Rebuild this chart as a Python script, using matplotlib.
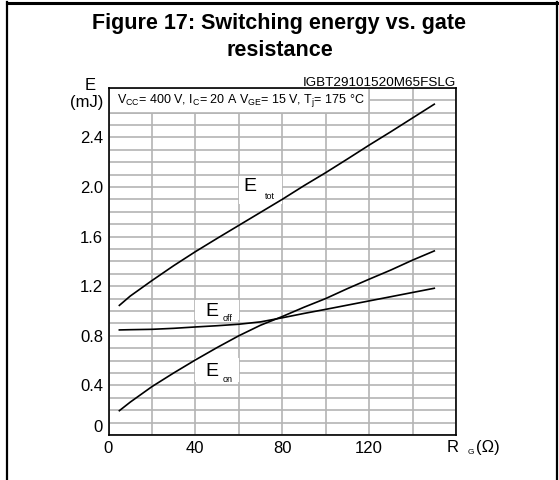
import matplotlib
matplotlib.use("Agg")
import matplotlib.pyplot as plt
from matplotlib.patches import Rectangle
from matplotlib.lines import Line2D

plt.rcParams['font.family'] = ['Liberation Sans', 'DejaVu Sans']
plt.rcParams['mathtext.fontset'] = 'custom'
plt.rcParams['mathtext.rm'] = 'Liberation Sans'
plt.rcParams['mathtext.it'] = 'Liberation Sans'

# Data
rg = [5, 10, 20, 30, 40, 50, 60, 70, 80, 90, 100, 110, 120, 130, 140, 150]
e_on = [0.196, 0.265, 0.39, 0.50, 0.605, 0.705, 0.80, 0.885, 0.955, 1.03, 1.10, 1.18, 1.256, 1.33, 1.41, 1.484]
e_off = [0.847, 0.849, 0.852, 0.860, 0.871, 0.881, 0.893, 0.912, 0.945, 0.98, 1.013, 1.047, 1.081, 1.115, 1.149, 1.183]
e_tot = [1.045, 1.12, 1.245, 1.365, 1.478, 1.585, 1.69, 1.795, 1.900, 2.01, 2.115, 2.225, 2.337, 2.445, 2.556, 2.667]

x_ticks = [0, 40, 80, 120]
y_ticks = [0, 0.4, 0.8, 1.2, 1.6, 2.0, 2.4]
y_labels = ["0", "0.4", "0.8", "1.2", "1.6", "2.0", "2.4"]

W, H = 559, 480
fig = plt.figure(figsize=(W / 100, H / 100), dpi=100)
ax = fig.add_axes([108.5 / W, 1 - 435 / H, (456 - 108.5) / W, (435 - 87.7) / H])

ax.set_xlim(0, 160)
ax.set_ylim(0, 2.8)

gc = '#b4b4b4'
xg = [i * 20 for i in range(9)]
ax.set_xticks(xg)
ax.set_xticklabels([str(v) if v in x_ticks else '' for v in xg])
yg = [i / 10 for i in range(29)]
ax.set_yticks(yg)
ylab = []
for v in yg:
    lab = ''
    for t, l in zip(y_ticks, y_labels):
        if abs(t - v) < 1e-9:
            lab = l
    ylab.append(lab)
ax.set_yticklabels(ylab)
ax.grid(True, color=gc, lw=1.2)
ax.set_axisbelow(True)
ax.tick_params(length=0, labelsize=12, pad=4, colors='black')
ax.get_yticklabels()[0].set_va('bottom')

for s in ax.spines.values():
    s.set_color('black')
    s.set_linewidth(1.2)

# annotation box
ax.add_patch(Rectangle((0, 2.6), 120, 0.2, facecolor='white', edgecolor=gc, lw=1.2, zorder=1))
ax.text(3.9, 2.70, r"V$_{\rm CC}$= 400 V, I$_{\rm C}$= 20 A V$_{\rm GE}$= 15 V, T$_{\rm j}$= 175 °C",
        fontsize=9, va='center', ha='left', zorder=3)

# label boxes
for (x0, y0, w, h) in [(60, 1.86, 20, 0.23), (40, 0.93, 20, 0.16), (40, 0.43, 20, 0.19)]:
    ax.add_patch(Rectangle((x0, y0), w, h, facecolor='white', edgecolor='none', zorder=1))

ax.plot(rg, e_tot, color='black', lw=1.2, zorder=2)
ax.plot(rg, e_off, color='black', lw=1.2, zorder=2)
ax.plot(rg, e_on, color='black', lw=1.2, zorder=2)

ax.text(65.1, 2.0, "E", fontsize=14, ha='center', va='center', zorder=3)
ax.text(74.1, 1.925, "tot", fontsize=6.5, ha='center', va='center', zorder=3)
ax.text(47.4, 0.996, "E", fontsize=14, ha='center', va='center', zorder=3)
ax.text(55.0, 0.94, "off", fontsize=6.5, ha='center', va='center', zorder=3)
ax.text(47.6, 0.512, "E", fontsize=14, ha='center', va='center', zorder=3)
ax.text(55.0, 0.448, "on", fontsize=6.5, ha='center', va='center', zorder=3)

# axis labels
fig.text(90.5 / W, 1 - 86 / H, "E", fontsize=12, ha='center', va='center')
fig.text(87 / W, 1 - 102 / H, "(mJ)", fontsize=12, ha='center', va='center')
fig.text(447 / W, 1 - 452 / H, "R", fontsize=12, ha='left', va='baseline')
fig.text(468 / W, 1 - 454 / H, "G", fontsize=6, ha='left', va='baseline')
fig.text(476 / W, 1 - 452 / H, "(Ω)", fontsize=12, ha='left', va='baseline')

fig.text(456 / W, 1 - 86 / H, "IGBT29101520M65FSLG", fontsize=9.7, ha='right', va='baseline')

# title
fig.text(0.5, 1 - 29 / H, "Figure 17: Switching energy vs. gate", fontsize=15.5,
         fontweight='bold', ha='center', va='baseline')
fig.text(0.5, 1 - 56.5 / H, "resistance", fontsize=15.5,
         fontweight='bold', ha='center', va='baseline')

# page borders
fig.add_artist(Line2D([6.5 / W, 6.5 / W], [0, 1 - 2 / H], color='black', lw=1.6, transform=fig.transFigure))
fig.add_artist(Line2D([557 / W, 557 / W], [0, 1 - 2 / H], color='black', lw=1.6, transform=fig.transFigure))
fig.add_artist(Line2D([6.5 / W, 557 / W], [1 - 2.5 / H, 1 - 2.5 / H], color='black', lw=2.2, transform=fig.transFigure))

fig.savefig("out.png", dpi=100)
